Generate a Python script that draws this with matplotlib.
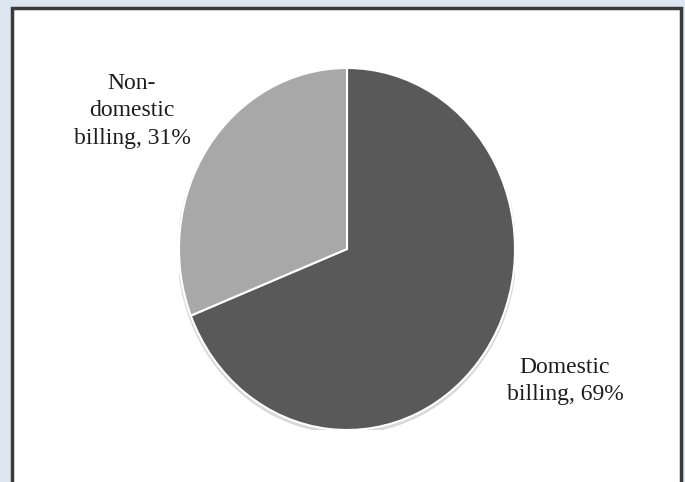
import matplotlib
matplotlib.use("Agg")
import matplotlib.pyplot as plt
from matplotlib.patches import Rectangle, Ellipse

categories = ["Domestic\nbilling, 69%", "Non-\ndomestic\nbilling, 31%"]
values = [69, 31]
colors = ["#595959", "#a8a8a8"]

W, H = 685, 482
fig = plt.figure(figsize=(W / 100, H / 100), dpi=100)
fig.patch.set_facecolor("#dce6f0")

# inner white box with dark border
box = Rectangle((12 / W, -0.02), (681 - 12) / W, 1.02 - 8 / H,
                transform=fig.transFigure, facecolor="white",
                edgecolor="#3a3a3a", linewidth=2.5, zorder=-5)
fig.patches.append(box)

cx, cy, rx, ry = 347, 249, 168, 181
ax = fig.add_axes([(cx - rx) / W, 1 - (cy + ry) / H, 2 * rx / W, 2 * ry / H])
ax.set_zorder(2)
ax.patch.set_visible(False)
# soft shadow rim
ax.add_patch(Ellipse((0.0, -0.012), 2.02, 2.02, facecolor="#d9d9d9",
                     edgecolor="none", zorder=0))
wedges, _ = ax.pie(values, colors=colors, startangle=90, counterclock=False,
                   radius=1.0, wedgeprops=dict(edgecolor="white", linewidth=1.5))
for w in wedges:
    w.set_zorder(1)
ax.set_xlim(-1.0, 1.0)
ax.set_ylim(-1.0, 1.0)
ax.set_aspect("auto")
ax.axis("off")

font = dict(family="Liberation Serif", fontsize=17, color="#1c1c1c",
            ha="center", va="center", linespacing=1.42, zorder=3)
fig.text(565 / W, 1 - 381 / H, categories[0], **font)
fig.text(132 / W, 1 - 111 / H, categories[1], **font)

fig.savefig("out.png", dpi=100, facecolor=fig.get_facecolor())
